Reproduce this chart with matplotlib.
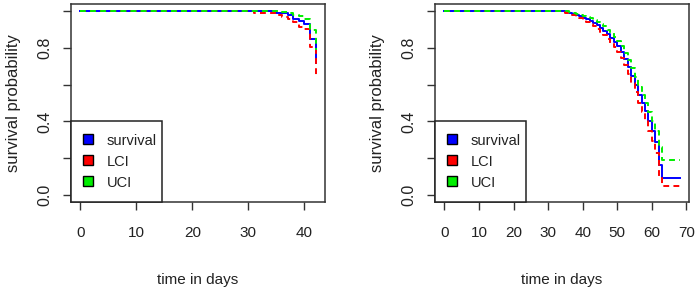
import matplotlib
matplotlib.use('Agg')
import matplotlib.pyplot as plt
from matplotlib.patches import Patch

plt.rcParams['font.family'] = ['Liberation Sans', 'DejaVu Sans']
plt.rcParams['font.size'] = 10.5

# left panel: follow-up to day 42
t_surv1 = [0, 35, 37, 38, 39, 40, 41, 42]
surv1 = [1.0, 0.99, 0.978, 0.96, 0.945, 0.93, 0.848, 0.72]
t_lci1 = [0, 31, 33, 35, 36, 37, 38, 39, 40, 41, 42]
lci1 = [1.0, 0.993, 0.99, 0.978, 0.97, 0.96, 0.94, 0.915, 0.902, 0.806, 0.65]
t_uci1 = [0, 36, 37, 38, 39, 40, 41, 42]
uci1 = [1.0, 0.995, 0.99, 0.982, 0.975, 0.958, 0.897, 0.79]

# right panel: follow-up to day 68
t_all2 = [0, 35, 36, 37, 38, 39, 40, 41, 42, 43, 44, 45, 46, 47, 48, 49,
          50, 51, 52, 53, 54, 55, 56, 57, 58, 59, 60, 61, 62, 63, 68]
surv2 = [1.0, 0.995, 0.99, 0.985, 0.98, 0.972, 0.965, 0.957, 0.948, 0.937,
         0.925, 0.91, 0.895, 0.875, 0.855, 0.835, 0.81, 0.78, 0.74, 0.695,
         0.65, 0.60, 0.545, 0.50, 0.455, 0.40, 0.345, 0.285, 0.16, 0.09, 0.09]
lci2 = [1.0, 0.99, 0.985, 0.978, 0.97, 0.962, 0.953, 0.943, 0.932, 0.92,
        0.905, 0.888, 0.87, 0.85, 0.828, 0.805, 0.778, 0.745, 0.705, 0.658,
        0.61, 0.558, 0.50, 0.452, 0.405, 0.348, 0.29, 0.225, 0.10, 0.045, 0.045]
uci2 = [1.0, 1.0, 0.995, 0.992, 0.988, 0.982, 0.976, 0.97, 0.962, 0.953,
        0.943, 0.93, 0.918, 0.9, 0.882, 0.862, 0.84, 0.812, 0.775, 0.732,
        0.69, 0.64, 0.59, 0.545, 0.50, 0.45, 0.40, 0.35, 0.26, 0.19, 0.19]

labels = ['survival', 'LCI', 'UCI']
colors = ['#0000ff', '#ff0000', '#00ee00']
yticks = [0, 0.2, 0.4, 0.6, 0.8, 1.0]
ytick_labels = ['0.0', '', '0.4', '', '0.8', '']
xticks1 = [0, 10, 20, 30, 40]
xticks2 = [0, 10, 20, 30, 40, 50, 60, 70]

fig = plt.figure(figsize=(6.97, 2.87), dpi=100)
ax1 = fig.add_axes([0.1019, 0.2962, 0.3644, 0.6898])
ax2 = fig.add_axes([0.6241, 0.2962, 0.3644, 0.6898])

panels = [
    (ax1, t_surv1, surv1, t_lci1, lci1, t_uci1, uci1, xticks1),
    (ax2, t_all2, surv2, t_all2, lci2, t_all2, uci2, xticks2),
]

for ax, ts, s, tl, l, tu, u, xt in panels:
    ax.step(ts, s, where='post', color=colors[0], lw=1.4)
    ax.step(tl, l, where='post', color=colors[1], lw=1.4, dashes=(3, 2.2))
    ax.step(tu, u, where='post', color=colors[2], lw=1.4, dashes=(3, 2.2))

    xmax = ts[-1]
    ax.set_xlim(-0.04 * xmax, 1.04 * xmax)
    ax.set_ylim(-0.04, 1.04)
    ax.set_xticks(xt)
    ax.set_yticks(yticks)
    ax.set_yticklabels(ytick_labels)
    ax.tick_params(axis='both', direction='out', length=6, width=1,
                   color='#333333', labelcolor='#222222')
    ax.tick_params(axis='x', pad=11, labelsize=11)
    ax.tick_params(axis='y', pad=7.5, labelrotation=90, labelsize=11.5)
    for lab in ax.get_yticklabels():
        lab.set_va('center')
    for sp in ax.spines.values():
        sp.set_color('#333333')
        sp.set_linewidth(1.1)

    ax.set_xlabel('time in days', color='#222222', labelpad=24, fontsize=11)
    ax.set_ylabel('survival probability', color='#222222', labelpad=12,
                  fontsize=12)

    handles = [Patch(facecolor=c, edgecolor='black', label=lb)
               for c, lb in zip(colors, labels)]
    leg = ax.legend(handles=handles, loc='lower left', mode='expand',
                    bbox_to_anchor=(0, 0, 0.358, 0.41), borderaxespad=0,
                    fancybox=False, framealpha=1, edgecolor='#222222',
                    handlelength=0.68, handleheight=0.68, handletextpad=0.9,
                    borderpad=0.85, labelspacing=0.48)
    leg.get_frame().set_linewidth(1.1)
    for txt in leg.get_texts():
        txt.set_color('#222222')

fig.savefig('out.png', dpi=100)
